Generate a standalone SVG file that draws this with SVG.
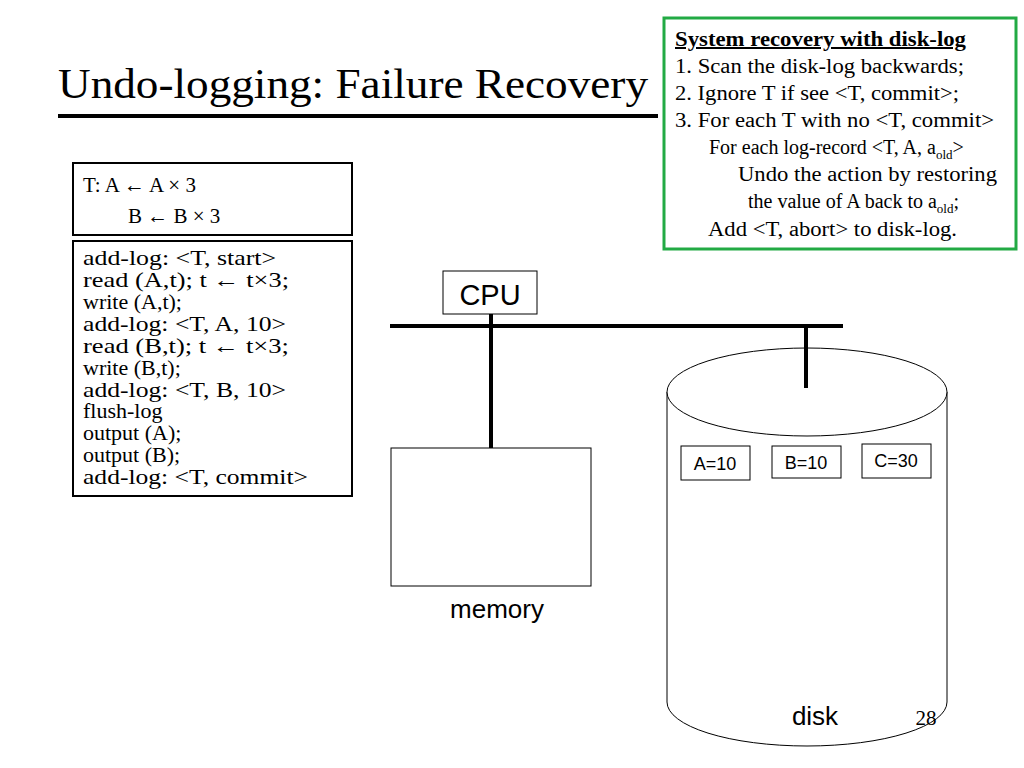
<svg xmlns="http://www.w3.org/2000/svg" width="1024" height="768" viewBox="0 0 1024 768">
<style>
.s{font-family:"Liberation Serif",serif;fill:#000}
.a{font-family:"Liberation Sans",sans-serif;fill:#000}
.b{fill:#fff;stroke:#000;stroke-width:2}
.t{fill:#fff;stroke:#000;stroke-width:1}
.l{stroke:#000;stroke-width:4;fill:none}
</style>
<rect width="1024" height="768" fill="#fff"/>
<text class="s" x="58" y="98" font-size="42" textLength="590" lengthAdjust="spacingAndGlyphs">Undo-logging: Failure Recovery</text>
<line x1="58" y1="116" x2="658" y2="116" stroke="#000" stroke-width="4"/>
<g id="recovery">
<rect x="664" y="18" width="352" height="231" fill="#fff" stroke="#22aa44" stroke-width="3"/>
<g class="s" font-size="20">
<text x="675" y="46" font-weight="bold" text-decoration="underline" textLength="291" lengthAdjust="spacingAndGlyphs">System recovery with disk-log</text>
<text x="675" y="73" textLength="289" lengthAdjust="spacingAndGlyphs">1. Scan the disk-log backwards;</text>
<text x="675" y="100" textLength="284" lengthAdjust="spacingAndGlyphs">2. Ignore T if see &lt;T, commit&gt;;</text>
<text x="675" y="127" textLength="319" lengthAdjust="spacingAndGlyphs">3. For each T with no &lt;T, commit&gt;</text>
<text x="709" y="154">For each log-record &lt;T, A, a<tspan font-size="13" dy="5">old</tspan><tspan dy="-5">&gt;</tspan></text>
<text x="738" y="181" textLength="259" lengthAdjust="spacingAndGlyphs">Undo the action by restoring</text>
<text x="748" y="208">the value of A back to a<tspan font-size="13" dy="5">old</tspan><tspan dy="-5">;</tspan></text>
<text x="708" y="236" textLength="249" lengthAdjust="spacingAndGlyphs">Add &lt;T, abort&gt; to disk-log.</text>
</g>
</g>
<g id="tx">
<rect class="b" x="73" y="163" width="279" height="72"/>
<text class="s" x="83" y="192" font-size="21">T:  A  ←  A × 3</text>
<text class="s" x="128" y="223" font-size="21">B  ←  B × 3</text>
</g>
<g id="log">
<rect class="b" x="73" y="241" width="279" height="255"/>
<g class="s" font-size="22">
<text x="83" y="265" textLength="193" lengthAdjust="spacingAndGlyphs">add-log: &lt;T, start&gt;</text>
<text x="83" y="287" textLength="206" lengthAdjust="spacingAndGlyphs">read (A,t);  t ← t×3;</text>
<text x="83" y="309">write (A,t);</text>
<text x="83" y="331" textLength="203" lengthAdjust="spacingAndGlyphs">add-log: &lt;T, A, 10&gt;</text>
<text x="83" y="353" textLength="206" lengthAdjust="spacingAndGlyphs">read (B,t);  t ← t×3;</text>
<text x="83" y="375">write (B,t);</text>
<text x="83" y="397" textLength="203" lengthAdjust="spacingAndGlyphs">add-log: &lt;T, B, 10&gt;</text>
<text x="83" y="418">flush-log</text>
<text x="83" y="440">output (A);</text>
<text x="83" y="462">output (B);</text>
<text x="83" y="484" textLength="225" lengthAdjust="spacingAndGlyphs">add-log: &lt;T, commit&gt;</text>
</g>
</g>
<g id="connectors">
<line class="l" x1="390" y1="326" x2="843" y2="326"/>
<line class="l" x1="491" y1="314" x2="491" y2="448"/>
</g>
<g id="cpu">
<rect class="t" x="443" y="271" width="94" height="43"/>
<text class="a" x="490" y="305" font-size="29" text-anchor="middle">CPU</text>
</g>
<g id="memory">
<rect class="t" x="391" y="448" width="200" height="138"/>
<text class="a" x="497" y="618" font-size="26" text-anchor="middle">memory</text>
</g>
<g id="disk">
<path d="M667,392 L667,702 A140,44 0 0 0 947,702 L947,392" fill="#fff" stroke="#000" stroke-width="1"/>
<ellipse cx="807" cy="392" rx="140" ry="44" fill="#fff" stroke="#000" stroke-width="1"/>
<line class="l" x1="806" y1="326" x2="806" y2="388"/>
<rect class="t" x="681" y="446" width="69" height="34"/>
<text class="a" x="715" y="470" font-size="18" text-anchor="middle">A=10</text>
<rect class="t" x="772" y="446" width="69" height="32"/>
<text class="a" x="806" y="469" font-size="18" text-anchor="middle">B=10</text>
<rect class="t" x="862" y="444" width="69" height="34"/>
<text class="a" x="896" y="467" font-size="18" text-anchor="middle">C=30</text>
<text class="a" x="815" y="725" font-size="26" text-anchor="middle">disk</text>
</g>
<text class="s" x="926" y="725" font-size="21" text-anchor="middle">28</text>
</svg>
